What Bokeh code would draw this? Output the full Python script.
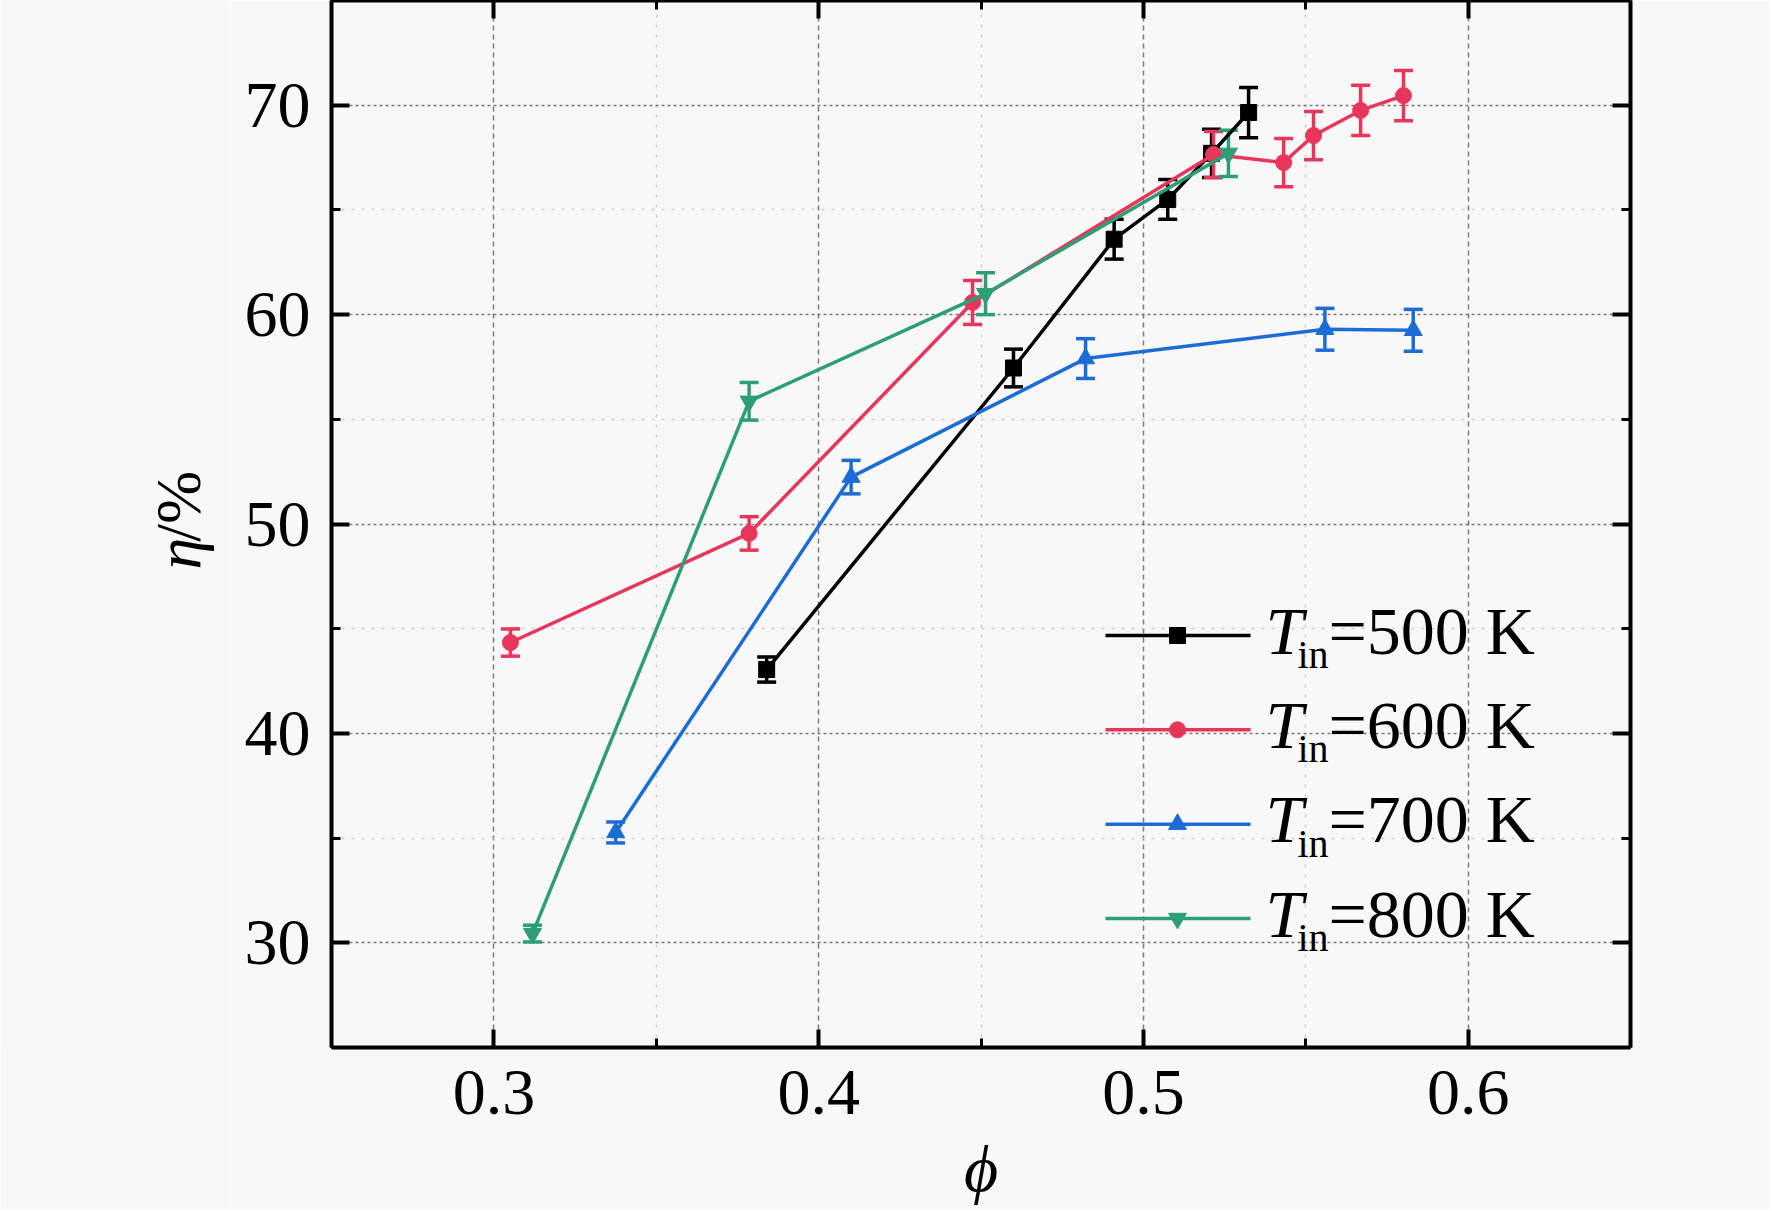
import math
from bokeh.plotting import figure
from bokeh.layouts import row
from bokeh.models import (Range1d, LinearAxis, FixedTicker, Whisker, TeeHead,
                          ColumnDataSource, Label)
from bokeh.core.properties import value
from bokeh.embed import file_html
from bokeh.resources import INLINE

# ---------------- data ----------------
phi_500 = [0.384, 0.460, 0.491, 0.5075, 0.521, 0.5324]
eta_500 = [43.05, 57.45, 63.6, 65.5, 67.7, 69.65]
err_500 = [0.6, 0.9, 0.95, 0.95, 1.15, 1.2]

phi_600 = [0.3051, 0.3786, 0.4474, 0.5216, 0.5432, 0.5524, 0.5669, 0.5801]
eta_600 = [44.34, 49.55, 60.58, 67.65, 67.26, 68.55, 69.75, 70.46]
err_600 = [0.65, 0.8, 1.05, 1.1, 1.15, 1.15, 1.2, 1.2]

phi_700 = [0.3375, 0.4100, 0.4822, 0.5559, 0.5831]
eta_700 = [35.27, 52.24, 57.9, 59.3, 59.25]
err_700 = [0.5, 0.8, 0.95, 1.0, 1.0]

phi_800 = [0.3119, 0.3786, 0.4514, 0.5262]
eta_800 = [30.44, 55.86, 61.0, 67.7]
err_800 = [0.4, 0.9, 1.0, 1.1]

legend_temps = ["500", "600", "700", "800"]
x_ticks = [0.3, 0.4, 0.5, 0.6]
x_minor = [0.25, 0.35, 0.45, 0.55, 0.65]
y_ticks = [30, 40, 50, 60, 70]
y_minor = [25, 35, 45, 55, 65, 75]

# ---------------- styling ----------------
FONT = "Liberation Serif"
BG = "#f8f8f8"
colors = ["#000000", "#e8365a", "#1c6cd6", "#2e9e76"]
markers = ["square", "circle", "triangle", "inverted_triangle"]
msizes = [16, 16, 18, 18]

PAGE_W, PAGE_H = 1770, 1209
STRIP_W = 230                      # left strip holding the y title
FX0, FX1, FYTOP, FYBOT = 331, 1630, 0, 1047   # frame in page pixels
X_START, X_END = 0.25, 0.65
Y_START, Y_END = 25.0, 75.0


def dx(px):
    return X_START + (px - FX0) / (FX1 - FX0) * (X_END - X_START)


def dy(py):
    return Y_START + (FYBOT - py) / (FYBOT - FYTOP) * (Y_END - Y_START)


MAIN_W = PAGE_W - STRIP_W
p = figure(width=MAIN_W, height=PAGE_H, x_range=Range1d(X_START, X_END),
           y_range=Range1d(Y_START, Y_END), output_backend="svg",
           toolbar_location=None,
           min_border_left=FX0 - STRIP_W, min_border_right=PAGE_W - FX1,
           min_border_top=FYTOP, min_border_bottom=PAGE_H - FYBOT)
p.background_fill_color = BG
p.border_fill_color = BG
p.outline_line_color = None


def style_axis(ax, labels=True):
    ax.axis_line_width = 4
    ax.axis_line_color = "black"
    ax.major_tick_in = 18
    ax.major_tick_out = 0
    ax.minor_tick_in = 9
    ax.minor_tick_out = 0
    ax.major_tick_line_width = 4
    ax.minor_tick_line_width = 3
    ax.major_tick_line_color = "black"
    ax.minor_tick_line_color = "black"
    if labels:
        ax.major_label_text_font = FONT
        ax.major_label_text_font_size = "66px"
        ax.major_label_text_color = "black"
    else:
        ax.major_label_text_font_size = "1px"
        ax.major_label_standoff = 0


p.xaxis.ticker = FixedTicker(ticks=x_ticks, minor_ticks=x_minor)
p.yaxis.ticker = FixedTicker(ticks=y_ticks, minor_ticks=y_minor)
style_axis(p.xaxis[0])
style_axis(p.yaxis[0])
p.xaxis.major_label_standoff = 23
p.yaxis.major_label_standoff = 21
p.xaxis.axis_label = "ϕ"
p.xaxis.axis_label_text_font = FONT
p.xaxis.axis_label_text_font_style = "italic"
p.xaxis.axis_label_text_font_size = "66px"
p.xaxis.axis_label_text_color = "black"
p.xaxis.axis_label_standoff = 15

top = LinearAxis(ticker=FixedTicker(ticks=x_ticks, minor_ticks=x_minor),
                 major_label_overrides={t: "" for t in x_ticks})
right = LinearAxis(ticker=FixedTicker(ticks=y_ticks, minor_ticks=y_minor),
                   major_label_overrides={t: "" for t in y_ticks})
style_axis(top, labels=False)
style_axis(right, labels=False)
p.add_layout(top, "above")
p.add_layout(right, "right")

# grid
p.xgrid.grid_line_color = "#7a7a7a"
p.xgrid.grid_line_dash = "5 4"
p.xgrid.grid_line_width = 1.5
p.ygrid.grid_line_color = "#7a7a7a"
p.ygrid.grid_line_dash = "3 3"
p.ygrid.grid_line_width = 1.5
for g in (p.xgrid[0], p.ygrid[0]):
    g.minor_grid_line_color = "#cfcfcf"
    g.minor_grid_line_dash = "3 7"
    g.minor_grid_line_width = 1.5

# ---------------- series ----------------
series = [(phi_500, eta_500, err_500), (phi_600, eta_600, err_600),
          (phi_700, eta_700, err_700), (phi_800, eta_800, err_800)]

for (xs, ys, es), c, m, ms in zip(series, colors, markers, msizes):
    src = ColumnDataSource(dict(x=xs, y=ys,
                                upper=[a + b for a, b in zip(ys, es)],
                                lower=[a - b for a, b in zip(ys, es)]))
    p.line("x", "y", source=src, line_color=c, line_width=3.5)
    w = Whisker(source=src, base="x", upper="upper", lower="lower",
                line_color=c, line_width=3.5,
                upper_head=TeeHead(size=19, line_color=c, line_width=3.5),
                lower_head=TeeHead(size=19, line_color=c, line_width=3.5))
    p.add_layout(w)
    p.scatter("x", "y", source=src, marker=m, size=ms,
              fill_color=c, line_color=c)

# ---------------- legend (drawn manually for T_in subscript) ----------------
entry_y = [635, 729.3, 823.7, 918]
for temp, c, m, ms, ey in zip(legend_temps, colors, markers, msizes, entry_y):
    p.line([dx(1105), dx(1250)], [dy(ey), dy(ey)], line_color=c, line_width=3.5)
    p.scatter([dx(1177)], [dy(ey)], marker=m, size=ms, fill_color=c, line_color=c)
    p.add_layout(Label(x=dx(1265), y=dy(ey - 5), text="T", text_font=FONT,
                       text_font_style="italic", text_font_size="68px",
                       text_baseline="middle", text_align="left",
                       text_color="black"))
    p.add_layout(Label(x=dx(1297), y=dy(ey + 19), text="in", text_font=FONT,
                       text_font_size="40px", text_baseline="middle",
                       text_align="left", text_color="black"))
    p.add_layout(Label(x=dx(1328), y=dy(ey - 5), text="=" + temp + " K",
                       text_font=FONT, text_font_size="68px",
                       text_baseline="middle", text_align="left",
                       text_color="black"))

# ---------------- left strip with the y title ----------------
s = figure(width=STRIP_W, height=PAGE_H, x_range=Range1d(0, STRIP_W),
           y_range=Range1d(PAGE_H, 0), output_backend="svg",
           toolbar_location=None, x_axis_type=None, y_axis_type=None,
           min_border=0)
s.background_fill_color = BG
s.border_fill_color = BG
s.outline_line_color = None
s.grid.visible = False
s.text(x=[178], y=[657], text=["η"], angle=math.pi / 2,
       text_font=value(FONT), text_font_style="italic",
       text_font_size="64px", text_baseline="middle", text_align="left",
       text_color="black")
s.text(x=[178], y=[625], text=["/%"], angle=math.pi / 2,
       text_font=value(FONT), text_font_size="64px",
       text_baseline="middle", text_align="left", text_color="black")

layout = row(s, p, spacing=0)
open("out.html", "w").write(file_html(layout, INLINE))
